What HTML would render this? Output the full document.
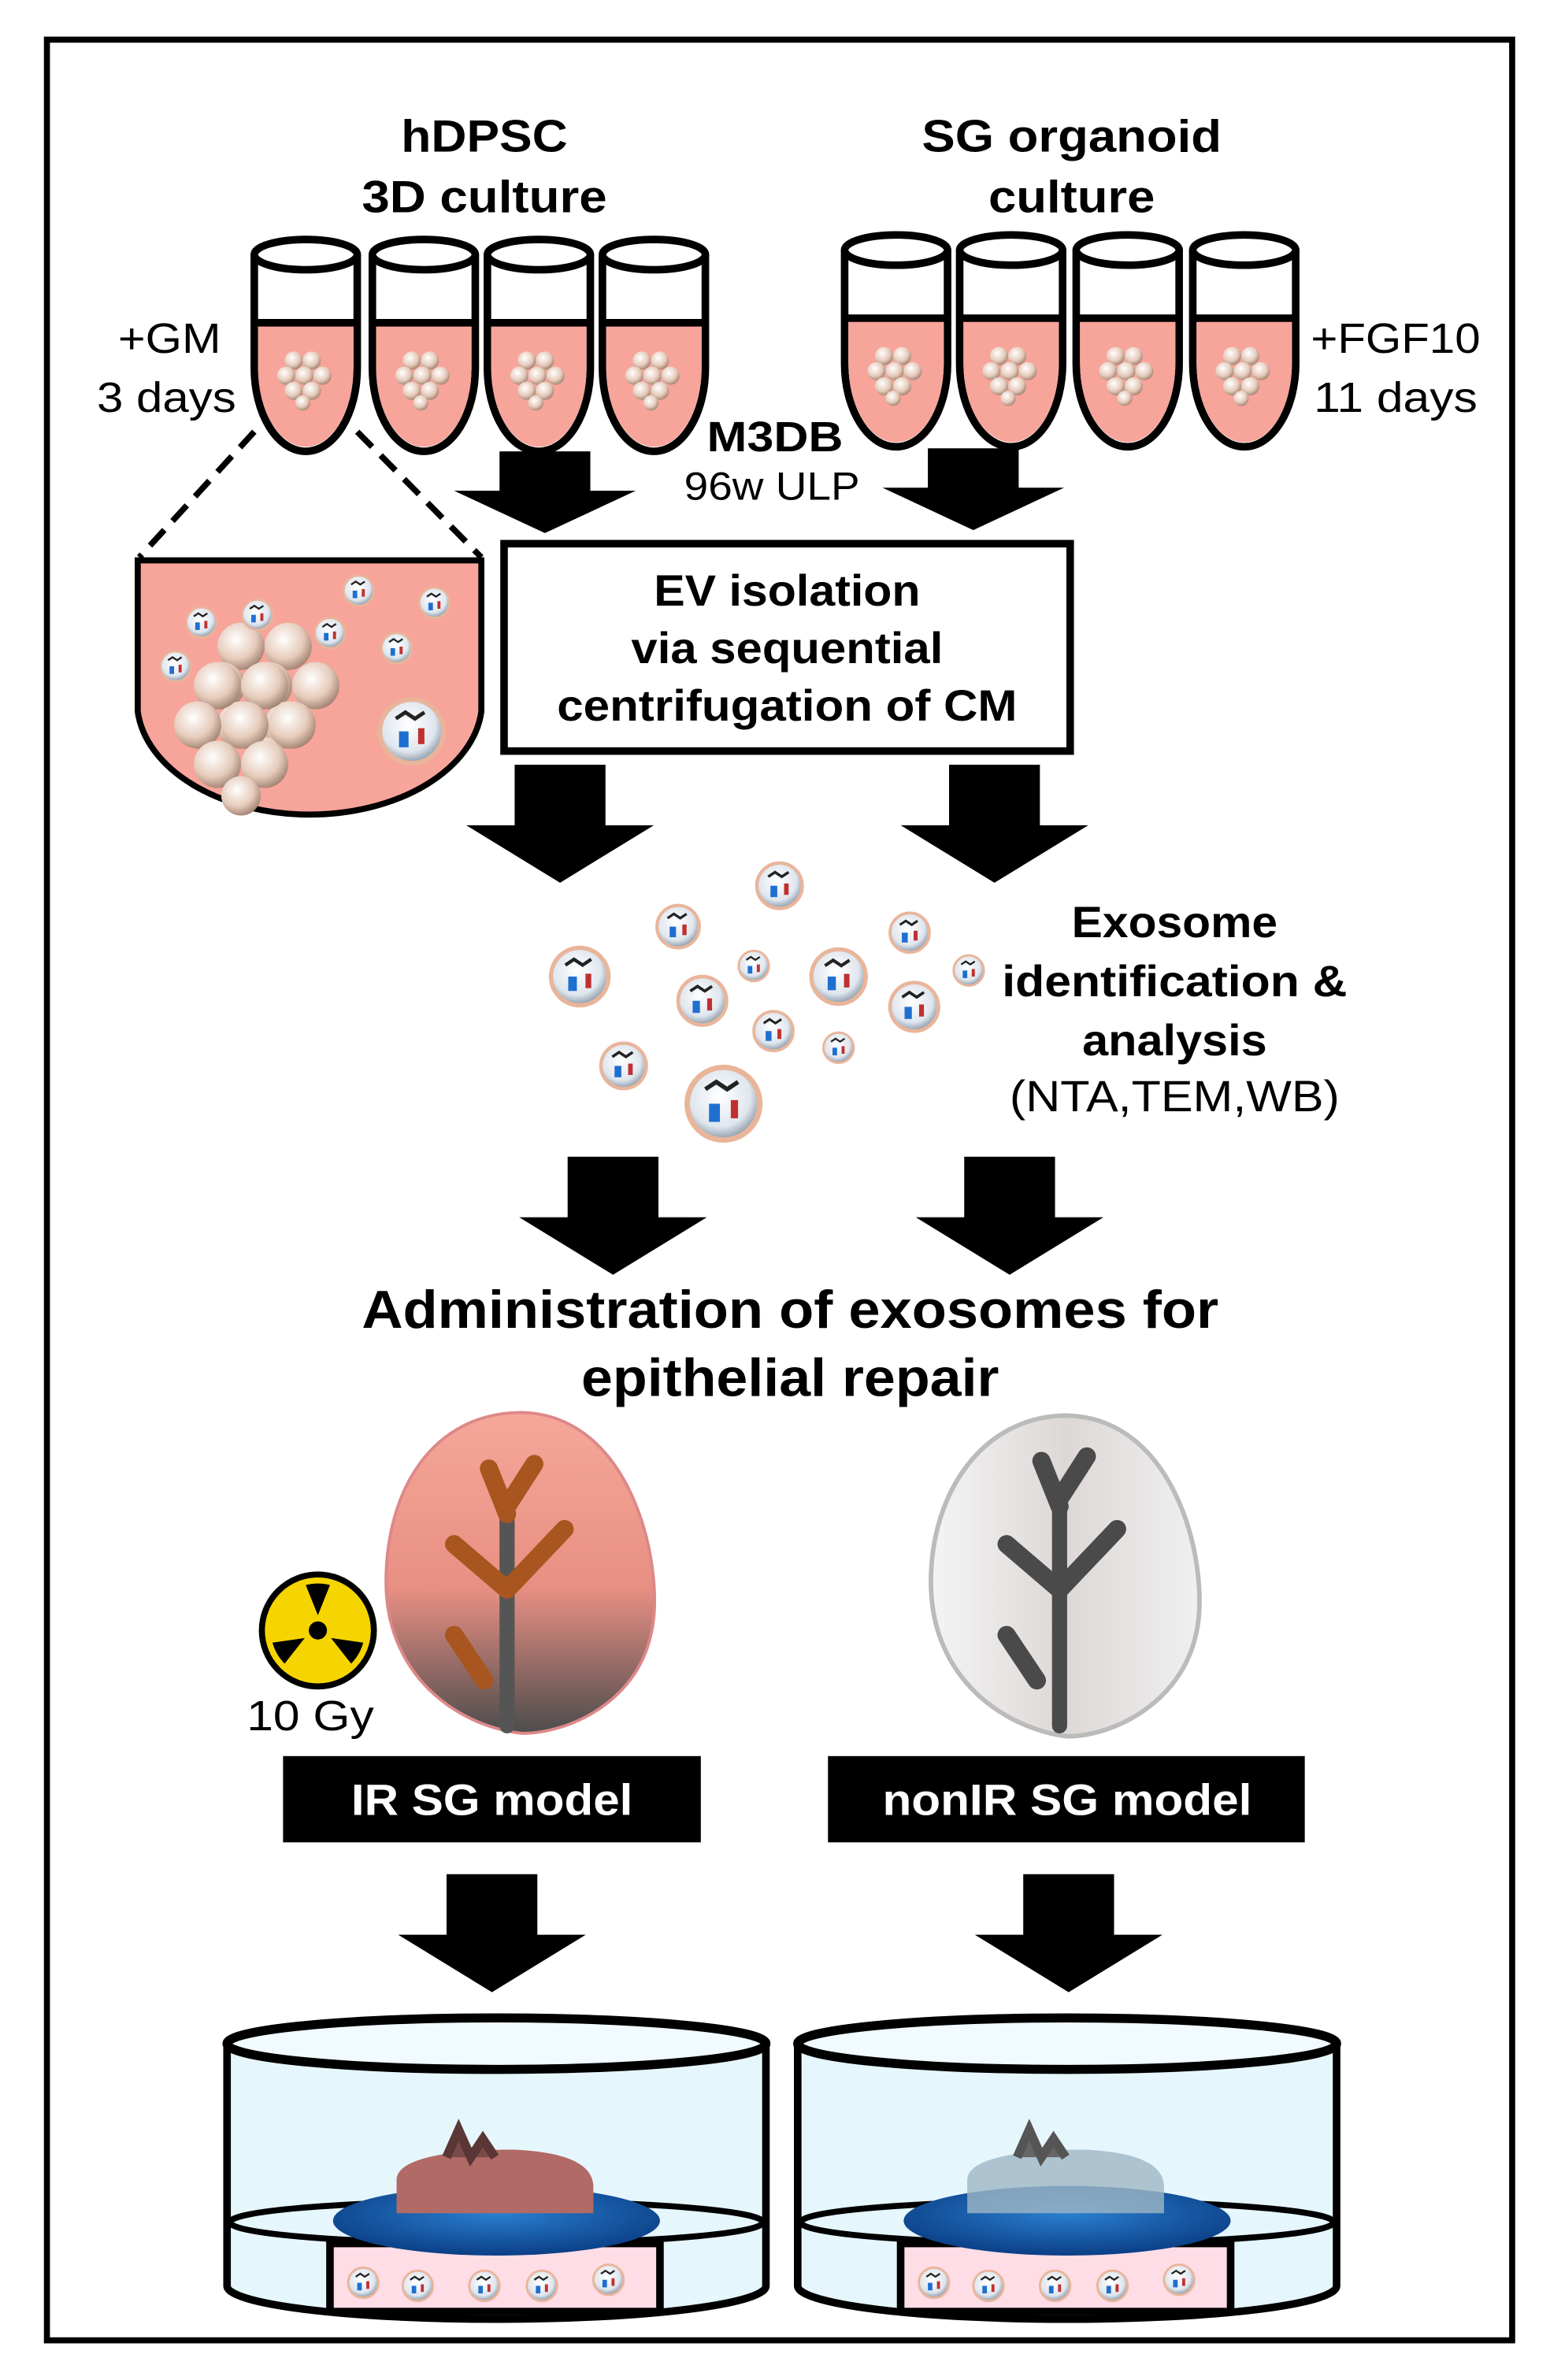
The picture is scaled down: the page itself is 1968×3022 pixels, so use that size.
<!DOCTYPE html>
<html><head><meta charset="utf-8"><style>
html,body{margin:0;padding:0;background:#fff}
svg{display:block}
text{font-family:"Liberation Sans",Arial,sans-serif}
</style></head><body>
<svg width="1968" height="3022" viewBox="0 0 1024 1572" xmlns="http://www.w3.org/2000/svg">
<defs>
<radialGradient id="cell" cx="0.4" cy="0.35" r="0.7"><stop offset="0" stop-color="#fff"/><stop offset="0.6" stop-color="#e6cbbb"/><stop offset="1" stop-color="#9a7b6a"/></radialGradient>
<radialGradient id="exo" cx="0.45" cy="0.4" r="0.6"><stop offset="0" stop-color="#ffffff"/><stop offset="0.7" stop-color="#dfe6ee"/><stop offset="1" stop-color="#8a98a8"/></radialGradient>
<linearGradient id="leafR" x1="0" y1="0" x2="0" y2="1"><stop offset="0" stop-color="#f6a79a"/><stop offset="0.55" stop-color="#e88f83"/><stop offset="1" stop-color="#4c4c4c"/></linearGradient>
<linearGradient id="leafG" x1="0" y1="0" x2="1" y2="0"><stop offset="0" stop-color="#f4f4f4"/><stop offset="0.5" stop-color="#ddd8d6"/><stop offset="1" stop-color="#f0f0f0"/></linearGradient>
<radialGradient id="ring" cx="0.5" cy="0.4" r="0.6"><stop offset="0" stop-color="#2a7fd0"/><stop offset="1" stop-color="#0b3f86"/></radialGradient>
<g id="arrow"><path d="M-30,0 H30 V40 H62 L0,78 L-62,40 H-30 Z" fill="#000"/></g>
<g id="arrowS"><path d="M-30,0 H30 V26 H60 L0,54 L-60,26 H-30 Z" fill="#000"/></g>
<g id="ex"><circle r="10" fill="url(#exo)" stroke="#e9b59a" stroke-width="1.5"/><rect x="-4" y="0" width="3" height="5" fill="#1e6fd0"/><rect x="2" y="-1" width="2" height="5" fill="#c03030"/><path d="M-5,-4 l3,-2 3,2 3,-2" stroke="#222" fill="none" stroke-width="1.2"/></g>
<g id="clump"><g fill="url(#cell)">
<circle cx="-8" cy="-12" r="6"/><circle cx="4" cy="-12" r="6"/><circle cx="-13" cy="-2" r="6"/><circle cx="-1" cy="-2" r="6"/><circle cx="11" cy="-2" r="6"/><circle cx="-8" cy="8" r="6"/><circle cx="4" cy="8" r="6"/><circle cx="-2" cy="16" r="5"/></g></g>
<g id="tube"><path d="M-34,0 V75 A34,55 0 0 0 34,75 V0" fill="#fff" stroke="#000" stroke-width="5"/><path d="M-31.5,45 V75 A31.5,52 0 0 0 31.5,75 V45 Z" fill="#f7a49a"/><line x1="-34" y1="45" x2="34" y2="45" stroke="#000" stroke-width="5"/><ellipse cx="0" cy="0" rx="34" ry="10" fill="#fff" stroke="#000" stroke-width="5"/><use href="#clump" x="0" y="82"/></g>
</defs>
<rect x="31" y="26" width="968" height="1520" fill="#fff" stroke="#000" stroke-width="4"/>

<g font-weight="bold" font-size="30" text-anchor="middle" fill="#000">
<text x="320" y="100" textLength="110" lengthAdjust="spacingAndGlyphs">hDPSC</text><text x="320" y="140" textLength="162" lengthAdjust="spacingAndGlyphs">3D culture</text>
<text x="708" y="100" textLength="198" lengthAdjust="spacingAndGlyphs">SG organoid</text><text x="708" y="140" textLength="110" lengthAdjust="spacingAndGlyphs">culture</text>
</g>
<g font-size="28" fill="#000">
<text x="112" y="233" text-anchor="middle" textLength="68" lengthAdjust="spacingAndGlyphs">+GM</text><text x="110" y="272" text-anchor="middle" textLength="92" lengthAdjust="spacingAndGlyphs">3 days</text>
<text x="922" y="233" text-anchor="middle" textLength="112" lengthAdjust="spacingAndGlyphs">+FGF10</text><text x="922" y="272" text-anchor="middle" textLength="108" lengthAdjust="spacingAndGlyphs">11 days</text>
<text x="512" y="298" text-anchor="middle" font-weight="bold" textLength="90" lengthAdjust="spacingAndGlyphs">M3DB</text>
<text x="510" y="330" text-anchor="middle" font-size="26" textLength="116" lengthAdjust="spacingAndGlyphs">96w ULP</text>
</g>
<use href="#tube" x="202" y="168"/><use href="#tube" x="280" y="168"/><use href="#tube" x="356" y="168"/><use href="#tube" x="432" y="168"/>
<use href="#tube" x="592" y="165"/><use href="#tube" x="668" y="165"/><use href="#tube" x="745" y="165"/><use href="#tube" x="822" y="165"/>

<line x1="168" y1="285" x2="92" y2="368" stroke="#000" stroke-width="4" stroke-dasharray="14,8"/>
<line x1="236" y1="285" x2="318" y2="368" stroke="#000" stroke-width="4" stroke-dasharray="14,8"/>
<path d="M91,370 H318 V470 A114,75 0 0 1 91,470 Z" fill="#f7a49a" stroke="#000" stroke-width="4"/>
<g transform="translate(180,458) scale(2.6)"><use href="#clump"/><use href="#clump" x="-6" y="10"/></g>
<use href="#ex" x="170" y="406"/><use href="#ex" x="218" y="418"/><use href="#ex" x="262" y="428"/><use href="#ex" x="287" y="398"/><use href="#ex" x="237" y="390"/><use href="#ex" x="133" y="411"/><use href="#ex" x="116" y="440"/>
<g transform="translate(272,483) scale(2.1)"><use href="#ex"/></g>

<use href="#arrowS" x="360" y="298"/>
<use href="#arrowS" x="643" y="296"/>
<rect x="333" y="359" width="374" height="137" fill="#fff" stroke="#000" stroke-width="5"/>
<g font-weight="bold" font-size="29" text-anchor="middle"><text x="520" y="400" textLength="176" lengthAdjust="spacingAndGlyphs">EV isolation</text><text x="520" y="438" textLength="206" lengthAdjust="spacingAndGlyphs">via sequential</text><text x="520" y="476" textLength="304" lengthAdjust="spacingAndGlyphs">centrifugation of CM</text></g>

<use href="#arrow" x="370" y="505"/><use href="#arrow" x="657" y="505"/>
<g>
<g transform="translate(515,585) scale(1.5)"><use href="#ex"/></g>
<g transform="translate(448,612) scale(1.4)"><use href="#ex"/></g>
<g transform="translate(601,616) scale(1.3)"><use href="#ex"/></g>
<g transform="translate(554,645) scale(1.8)"><use href="#ex"/></g>
<g transform="translate(498,638) scale(1)"><use href="#ex"/></g>
<g transform="translate(640,641) scale(1)"><use href="#ex"/></g>
<g transform="translate(383,645) scale(1.9)"><use href="#ex"/></g>
<g transform="translate(464,661) scale(1.6)"><use href="#ex"/></g>
<g transform="translate(604,665) scale(1.6)"><use href="#ex"/></g>
<g transform="translate(511,681) scale(1.3)"><use href="#ex"/></g>
<g transform="translate(554,692) scale(1)"><use href="#ex"/></g>
<g transform="translate(412,704) scale(1.5)"><use href="#ex"/></g>
<g transform="translate(478,729) scale(2.4)"><use href="#ex"/></g>
</g>
<g font-size="29" text-anchor="middle"><text x="776" y="619" font-weight="bold" textLength="136" lengthAdjust="spacingAndGlyphs">Exosome</text><text x="776" y="658" font-weight="bold" textLength="228" lengthAdjust="spacingAndGlyphs">identification &amp;</text><text x="776" y="697" font-weight="bold" textLength="122" lengthAdjust="spacingAndGlyphs">analysis</text><text x="776" y="734" textLength="218" lengthAdjust="spacingAndGlyphs">(NTA,TEM,WB)</text></g>

<use href="#arrow" x="405" y="764"/><use href="#arrow" x="667" y="764"/>
<g font-weight="bold" font-size="35" text-anchor="middle"><text x="522" y="877" textLength="566" lengthAdjust="spacingAndGlyphs">Administration of exosomes for</text><text x="522" y="922" textLength="276" lengthAdjust="spacingAndGlyphs">epithelial repair</text></g>

<path d="M345,933 C420,935 440,1040 430,1080 C420,1125 375,1145 345,1145 C300,1140 255,1105 255,1045 C255,985 285,933 345,933 Z" fill="url(#leafR)" stroke="#d88" stroke-width="2"/>
<g stroke-linecap="round" fill="none"><path d="M335,1140 V990" stroke="#555" stroke-width="10"/><path d="M335,1000 l-12,-30 M335,995 l18,-28 M335,1050 l38,-40 M335,1050 l-35,-30 M320,1110 l-20,-30" stroke="#a8551f" stroke-width="12"/></g>
<path d="M705,935 C780,937 800,1040 790,1080 C780,1125 735,1147 705,1147 C665,1142 615,1110 615,1045 C615,985 650,935 705,935 Z" fill="url(#leafG)" stroke="#bbb" stroke-width="3"/>
<g stroke-linecap="round" fill="none" stroke="#4a4a4a"><path d="M700,1140 V985" stroke-width="10"/><path d="M700,995 l-12,-30 M700,990 l18,-28 M700,1050 l38,-40 M700,1050 l-35,-30 M685,1110 l-20,-30" stroke-width="12"/></g>

<circle cx="210" cy="1077" r="37" fill="#f5d400" stroke="#000" stroke-width="4"/>
<g fill="#000" transform="translate(210,1077)"><circle r="6"/>
<path d="M0,-10 L-8,-30 A32,32 0 0 1 8,-30 Z"/>
<path d="M0,-10 L-8,-30 A32,32 0 0 1 8,-30 Z" transform="rotate(120)"/>
<path d="M0,-10 L-8,-30 A32,32 0 0 1 8,-30 Z" transform="rotate(240)"/></g>
<text x="205" y="1143" font-size="28" text-anchor="middle" textLength="84" lengthAdjust="spacingAndGlyphs">10 Gy</text>

<rect x="187" y="1160" width="276" height="57" fill="#000"/>
<rect x="547" y="1160" width="315" height="57" fill="#000"/>
<g fill="#fff" font-weight="bold" font-size="29" text-anchor="middle"><text x="325" y="1199" textLength="186" lengthAdjust="spacingAndGlyphs">IR SG model</text><text x="705" y="1199" textLength="244" lengthAdjust="spacingAndGlyphs">nonIR SG model</text></g>

<use href="#arrow" x="325" y="1238"/><use href="#arrow" x="706" y="1238"/>

<g>
<path d="M150,1350 V1510 A178,22 0 0 0 506,1510 V1350 Z" fill="#e6f6fd" stroke="#000" stroke-width="5"/>
<ellipse cx="328" cy="1350" rx="178" ry="17" fill="#f0faff" stroke="#000" stroke-width="6"/>
<ellipse cx="328" cy="1468" rx="176" ry="14" fill="none" stroke="#000" stroke-width="4"/>
<rect x="218" y="1482" width="218" height="45" fill="#ffdde6" stroke="#000" stroke-width="5"/>
<ellipse cx="328" cy="1467" rx="108" ry="23" fill="url(#ring)"/>
<path d="M262,1462 V1440 C262,1425 300,1420 340,1420 C380,1422 392,1432 392,1445 V1462 Z" fill="#b26a66"/>
<path d="M295,1425 l8,-18 8,18 8,-12 8,12" stroke="#5a3636" stroke-width="6" fill="#7a4a4a"/>
<g><use href="#ex" x="240" y="1508"/><use href="#ex" x="276" y="1510"/><use href="#ex" x="320" y="1510"/><use href="#ex" x="358" y="1510"/><use href="#ex" x="402" y="1506"/></g>
</g>
<g transform="translate(377,0)">
<path d="M150,1350 V1510 A178,22 0 0 0 506,1510 V1350 Z" fill="#e6f6fd" stroke="#000" stroke-width="5"/>
<ellipse cx="328" cy="1350" rx="178" ry="17" fill="#f0faff" stroke="#000" stroke-width="6"/>
<ellipse cx="328" cy="1468" rx="176" ry="14" fill="none" stroke="#000" stroke-width="4"/>
<rect x="218" y="1482" width="218" height="45" fill="#ffdde6" stroke="#000" stroke-width="5"/>
<ellipse cx="328" cy="1467" rx="108" ry="23" fill="url(#ring)"/>
<path d="M262,1462 V1440 C262,1425 300,1420 340,1420 C380,1422 392,1432 392,1445 V1462 Z" fill="#9fb6c4" opacity="0.8"/>
<path d="M295,1425 l8,-18 8,18 8,-12 8,12" stroke="#555" stroke-width="6" fill="#666"/>
<g><use href="#ex" x="240" y="1508"/><use href="#ex" x="276" y="1510"/><use href="#ex" x="320" y="1510"/><use href="#ex" x="358" y="1510"/><use href="#ex" x="402" y="1506"/></g>
</g>
</svg>
</body></html>
